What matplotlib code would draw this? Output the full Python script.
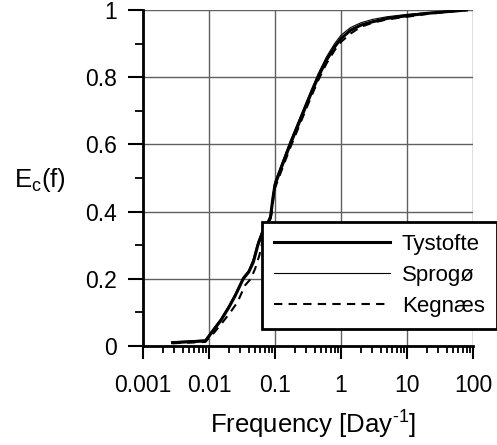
import matplotlib
matplotlib.use("Agg")
import matplotlib.pyplot as plt
from matplotlib.ticker import FixedLocator, LogLocator, NullFormatter

plt.rcParams['font.family'] = ['Liberation Sans', 'DejaVu Sans']
plt.rcParams['mathtext.fontset'] = 'custom'
plt.rcParams['mathtext.rm'] = 'Liberation Sans'
plt.rcParams['mathtext.it'] = 'Liberation Sans:italic'

# kumulative kurver
freq_t = [0.0028, 0.0088, 0.012, 0.015, 0.02, 0.025, 0.033, 0.04, 0.047, 0.055, 0.065,
          0.075, 0.085, 0.093, 0.1, 0.13, 0.17, 0.25, 0.35, 0.45, 0.6, 0.8, 1.0, 1.4,
          2, 3, 5, 10, 20, 40, 80]
ec_t = [0.01, 0.015, 0.05, 0.075, 0.115, 0.15, 0.2, 0.22, 0.25, 0.3, 0.34,
        0.36, 0.38, 0.44, 0.48, 0.54, 0.6, 0.68, 0.75, 0.80, 0.85, 0.89, 0.915, 0.94,
        0.955, 0.965, 0.975, 0.983, 0.99, 0.995, 1.0]

freq_s = [0.0028, 0.0088, 0.012, 0.015, 0.02, 0.025, 0.033, 0.04, 0.047, 0.055, 0.065,
          0.075, 0.085, 0.093, 0.1, 0.13, 0.17, 0.25, 0.35, 0.45, 0.6, 0.8, 1.0, 1.4,
          2, 3, 5, 10, 20, 40, 80]
ec_s = [0.012, 0.018, 0.055, 0.08, 0.12, 0.155, 0.205, 0.225, 0.26, 0.31, 0.345,
        0.365, 0.39, 0.45, 0.49, 0.55, 0.61, 0.69, 0.76, 0.81, 0.86, 0.9, 0.925, 0.948,
        0.962, 0.972, 0.98, 0.987, 0.992, 0.996, 1.0]

freq_k = [0.0028, 0.0088, 0.012, 0.016, 0.021, 0.027, 0.035, 0.043, 0.05, 0.058, 0.068,
          0.078, 0.088, 0.095, 0.1, 0.13, 0.17, 0.25, 0.35, 0.45, 0.6, 0.8, 1.0, 1.4,
          2, 3, 5, 10, 20, 40, 80]
ec_k = [0.008, 0.012, 0.04, 0.07, 0.1, 0.13, 0.18, 0.2, 0.23, 0.27, 0.33,
        0.36, 0.39, 0.44, 0.47, 0.53, 0.59, 0.67, 0.74, 0.79, 0.84, 0.88, 0.905, 0.93,
        0.95, 0.962, 0.972, 0.98, 0.988, 0.994, 1.0]

xticks = [0.001, 0.01, 0.1, 1, 10, 100]
xticklabels = ['0.001', '0.01', '0.1', '1', '10', '100']
yticks = [0, 0.2, 0.4, 0.6, 0.8, 1.0]
yticklabels = ['0', '0.2', '0.4', '0.6', '0.8', '1']

fig = plt.figure(figsize=(4.97, 4.45), dpi=100)
ax = fig.add_axes([0.2877, 0.2225, 0.664, 0.755])

ax.plot(freq_t, ec_t, color='black', lw=2.2, label='Tystofte')
ax.plot(freq_s, ec_s, color='black', lw=0.8, label='Sprogø')
ax.plot(freq_k, ec_k, color='black', lw=1.5, ls=(0, (4, 3)), label='Kegnæs')

ax.set_xscale('log')
ax.set_xlim(0.001, 100)
ax.set_ylim(0, 1)

ax.set_xticks(xticks)
ax.set_xticklabels(xticklabels)
ax.xaxis.set_minor_locator(LogLocator(base=10, subs=range(2, 10), numticks=20))
ax.xaxis.set_minor_formatter(NullFormatter())
ax.set_yticks(yticks)
ax.set_yticklabels(yticklabels)
ax.yaxis.set_minor_locator(FixedLocator([0.1, 0.3, 0.5, 0.7, 0.9]))

ax.grid(True, which='major', color='#606060', lw=1.0)
ax.set_axisbelow(True)

for s in ['top', 'right']:
    ax.spines[s].set_visible(False)
for s in ['left', 'bottom']:
    ax.spines[s].set_linewidth(2.0)

ax.tick_params(which='major', direction='out', width=1.5, labelsize=16.5)
ax.tick_params(which='minor', direction='out', width=1.3)
ax.tick_params(axis='x', which='major', length=9, pad=11)
ax.tick_params(axis='x', which='minor', length=5)
ax.tick_params(axis='y', which='major', length=11, pad=8)
ax.tick_params(axis='y', which='minor', length=6)

ax.set_xlabel('Frequency [Day$^{\u2010 1}$]', fontsize=18.5, va='baseline')
ax.xaxis.set_label_coords(0.514, -0.262)
ax.set_ylabel('E$_\\mathrm{c}$(f)', fontsize=18.5, rotation=0, ha='center', va='center')
ax.yaxis.set_label_coords(-0.312, 0.494)

leg = ax.legend(loc='lower left', bbox_to_anchor=(0.3606, 0.0506, 0.712, 0.336), mode='expand',
                borderaxespad=0, frameon=True, fancybox=False, edgecolor='black',
                framealpha=1, fontsize=16, handlelength=5.2, handletextpad=0.55,
                borderpad=0.55, labelspacing=0.45)
leg.get_frame().set_linewidth(2.0)
leg.set_clip_on(False)

fig.savefig('out.png', dpi=100)
